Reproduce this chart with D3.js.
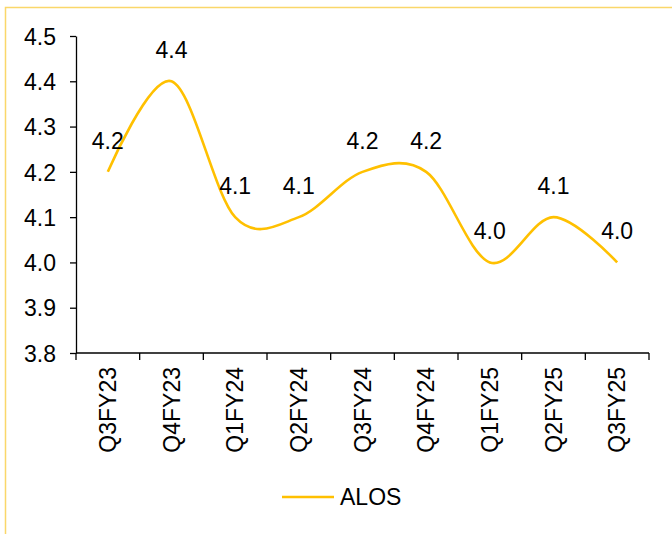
<!DOCTYPE html>
<html>
<head>
<meta charset="utf-8">
<script src="https://cdn.jsdelivr.net/npm/d3@7"></script>
<style>
  body { margin: 0; background: #fff; }
  svg { display: block; font-family: "Liberation Sans", Arial, sans-serif; }
</style>
</head>
<body>
<div id="chart"></div>
<script>
// data
const quarters = ["Q3FY23", "Q4FY23", "Q1FY24", "Q2FY24", "Q3FY24", "Q4FY24", "Q1FY25", "Q2FY25", "Q3FY25"];
const alos = [4.2, 4.4, 4.1, 4.1, 4.2, 4.2, 4.0, 4.1, 4.0];
const yTicks = [3.8, 3.9, 4.0, 4.1, 4.2, 4.3, 4.4, 4.5];
const seriesName = "ALOS";

const width = 672, height = 534;
const margin = {top: 36, right: 23, bottom: 181, left: 76};
const innerWidth = width - margin.left - margin.right;
const innerHeight = height - margin.top - margin.bottom;
const lineColor = "#FFC000";
const fontSize = 23;

const svg = d3.select("#chart").append("svg")
    .attr("width", width)
    .attr("height", height);

// outer chart border (only top/left edges visible)
svg.append("rect")
    .attr("x", 5.5).attr("y", 7.5)
    .attr("width", width + 10).attr("height", height + 10)
    .attr("fill", "none")
    .attr("stroke", "#FAD76A")
    .attr("stroke-width", 1.5);

const g = svg.append("g")
    .attr("transform", "translate(" + margin.left + "," + margin.top + ")");

const xScale = d3.scaleBand().domain(quarters).range([0, innerWidth]);
const yScale = d3.scaleLinear().domain([3.8, 4.5]).range([innerHeight, 0]);

// y axis
const yAxis = d3.axisLeft(yScale).tickValues(yTicks).tickFormat(d3.format(".1f")).tickSize(6).tickSizeOuter(0);
const yG = g.append("g").attr("class", "y-axis").call(yAxis);
yG.select(".domain").attr("stroke", "#000").attr("stroke-width", 1.3);
yG.selectAll(".tick line").attr("stroke", "#000").attr("stroke-width", 1.3);
yG.selectAll(".tick text")
    .attr("font-size", fontSize)
    .attr("fill", "#000")
    .attr("x", -20)
    .attr("dy", "0.36em");

// x axis: ticks at category boundaries
const xG = g.append("g").attr("class", "x-axis")
    .attr("transform", "translate(0," + innerHeight + ")");
xG.append("line")
    .attr("x1", 0).attr("x2", innerWidth)
    .attr("stroke", "#000").attr("stroke-width", 1.3);
const bounds = quarters.map(q => xScale(q)).concat([innerWidth]);
xG.selectAll(".bound").data(bounds).join("line")
    .attr("class", "bound")
    .attr("x1", d => d).attr("x2", d => d)
    .attr("y1", 0).attr("y2", 7)
    .attr("stroke", "#000").attr("stroke-width", 1.3);
xG.selectAll(".xlabel").data(quarters).join("text")
    .attr("class", "xlabel")
    .attr("transform", d => "translate(" + (xScale(d) + xScale.bandwidth() / 2) + ",14) rotate(-90)")
    .attr("text-anchor", "end")
    .attr("dy", "0.36em")
    .attr("font-size", fontSize)
    .attr("fill", "#000")
    .text(d => d);

// smoothed line
const line = d3.line()
    .x((d, i) => xScale(quarters[i]) + xScale.bandwidth() / 2)
    .y(d => yScale(d))
    .curve(d3.curveCatmullRom.alpha(0));

g.append("path")
    .datum(alos)
    .attr("fill", "none")
    .attr("stroke", lineColor)
    .attr("stroke-width", 2.6)
    .attr("d", line);

// data labels
g.selectAll(".dlabel").data(alos).join("text")
    .attr("class", "dlabel")
    .attr("x", (d, i) => xScale(quarters[i]) + xScale.bandwidth() / 2)
    .attr("y", d => yScale(d) - 23)
    .attr("text-anchor", "middle")
    .attr("font-size", fontSize)
    .attr("fill", "#000")
    .text(d => d3.format(".1f")(d));

// legend
const legend = svg.append("g").attr("transform", "translate(282,497)");
legend.append("line")
    .attr("x1", 0).attr("x2", 52)
    .attr("stroke", lineColor).attr("stroke-width", 2.6);
legend.append("text")
    .attr("x", 58).attr("y", 0)
    .attr("dy", "0.36em")
    .attr("font-size", fontSize)
    .attr("fill", "#000")
    .text(seriesName);
</script>
</body>
</html>
